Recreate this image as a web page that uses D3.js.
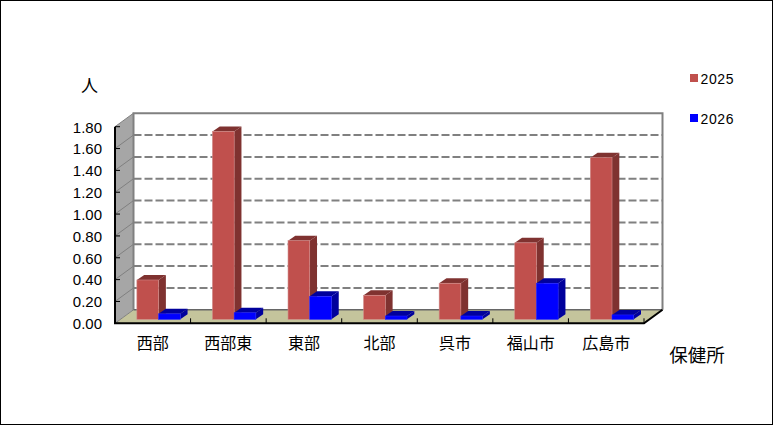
<!DOCTYPE html>
<html>
<head>
<meta charset="utf-8">
<script src="https://cdn.jsdelivr.net/npm/d3@7"></script>
<style>
html, body { margin: 0; padding: 0; background: #fff; }
svg { display: block; }
</style>
</head>
<body>
<svg id="chart" width="773" height="425"></svg>
<script>
const categories = ['西部', '西部東', '東部', '北部', '呉市', '福山市', '広島市'];
const seriesNames = ['2025', '2026'];
const values2025 = [0.36, 1.72, 0.72, 0.22, 0.33, 0.70, 1.48];
const values2026 = [0.05, 0.06, 0.21, 0.03, 0.03, 0.33, 0.04];
const tickValues = [0, 0.2, 0.4, 0.6, 0.8, 1.0, 1.2, 1.4, 1.6, 1.8];

const svg = d3.select('#chart');

// front plane of the chart, the back wall is this shifted by depth
const x = d3.scaleBand().domain(categories).range([115, 644]);
const y = d3.scaleLinear().domain([0, 1.8]).range([323.3, 126.7]);
const depthX = 18.5;
const depthY = -13.5;

const numberFont = '"Liberation Sans", Arial, sans-serif';
const cjkFont = '"Noto Sans CJK JP", sans-serif';

function points(arr) {
    return arr.map(p => p.join(',')).join(' ');
}

// outer frame
svg.append('rect')
    .attr('x', 0.5).attr('y', 0.5)
    .attr('width', 772).attr('height', 424)
    .attr('fill', '#fff').attr('stroke', '#000');

const x0 = x.range()[0];
const x1 = x.range()[1];
const yBottom = y(0);
const yTop = y(1.8);

// back wall
svg.append('rect')
    .attr('x', x0 + depthX).attr('y', yTop + depthY)
    .attr('width', x1 - x0).attr('height', yBottom - yTop)
    .attr('fill', '#fff');

// side wall
svg.append('polygon')
    .attr('points', points([[x0, yBottom], [x0, yTop], [x0 + depthX, yTop + depthY], [x0 + depthX, yBottom + depthY]]))
    .attr('fill', '#a6a6a6');

// floor
svg.append('polygon')
    .attr('points', points([[x0, yBottom], [x1, yBottom], [x1 + depthX, yBottom + depthY], [x0 + depthX, yBottom + depthY]]))
    .attr('fill', '#c4c49c');

// grid lines on the back wall, with the diagonal part on the side wall
const grid = svg.append('g');
grid.selectAll('line.diag')
    .data(tickValues.slice(0, -1))
    .enter().append('line')
    .attr('class', 'diag')
    .attr('x1', x0).attr('y1', d => y(d))
    .attr('x2', x0 + depthX).attr('y2', d => y(d) + depthY)
    .attr('stroke', '#808080').attr('stroke-width', 1);
grid.selectAll('line.dash')
    .data(tickValues.slice(1, -1))
    .enter().append('line')
    .attr('class', 'dash')
    .attr('x1', x0 + depthX).attr('y1', d => y(d) + depthY)
    .attr('x2', x1 + depthX).attr('y2', d => y(d) + depthY)
    .attr('stroke', '#808080').attr('stroke-width', 2)
    .attr('stroke-dasharray', '8,3');

// wall outlines
svg.append('polyline')
    .attr('points', points([[x0 + depthX, yBottom + depthY], [x0 + depthX, yTop + depthY], [x1 + depthX, yTop + depthY], [x1 + depthX, yBottom + depthY]]))
    .attr('fill', 'none').attr('stroke', '#808080').attr('stroke-width', 2);
svg.append('line')
    .attr('x1', x0 + depthX).attr('y1', yBottom + depthY)
    .attr('x2', x1 + depthX).attr('y2', yBottom + depthY)
    .attr('stroke', '#666').attr('stroke-width', 1.5);
svg.append('line')
    .attr('x1', x0).attr('y1', yTop)
    .attr('x2', x0 + depthX).attr('y2', yTop + depthY)
    .attr('stroke', '#808080').attr('stroke-width', 1);

// bars
const barWidth = 21.7;
const barDx = 5.8;   // bars stand a bit behind the front edge
const barDy = -4;
const barDepthX = 7.3;
const barDepthY = -5;

function drawBars(values, offset, front, dark, edge) {
    const g = svg.append('g');
    values.forEach((v, i) => {
        const left = x(categories[i]) + x.bandwidth() / 2 + barDx + offset;
        const right = left + barWidth;
        const top = y(v) + barDy;
        const base = y(0) + barDy;
        // top face
        g.append('polygon')
            .attr('points', points([[left, top], [right, top], [right + barDepthX, top + barDepthY], [left + barDepthX, top + barDepthY]]))
            .attr('fill', dark);
        // side face
        g.append('polygon')
            .attr('points', points([[right, top], [right + barDepthX, top + barDepthY], [right + barDepthX, base + barDepthY], [right, base]]))
            .attr('fill', dark);
        // front face
        g.append('rect')
            .attr('x', left).attr('y', top)
            .attr('width', barWidth).attr('height', base - top)
            .attr('fill', front).attr('stroke', edge).attr('stroke-width', 0.6);
    });
}

drawBars(values2025, -barWidth, '#c0504d', '#7f3230', '#d08a88');
drawBars(values2026, 0, '#0000ff', '#00009c', '#2020ff');

// axes
const yAxis = d3.axisLeft(y).tickValues(tickValues).tickSize(0).tickPadding(13).tickFormat(d3.format('.2f'));
const yG = svg.append('g').attr('transform', `translate(${x0},0)`).call(yAxis);
yG.select('.domain').remove();
yG.selectAll('text')
    .attr('font-family', numberFont).attr('font-size', 15).attr('fill', '#000')
    .attr('transform', 'translate(0,0.5)');
svg.append('g').selectAll('line')
    .data(tickValues)
    .enter().append('line')
    .attr('x1', x0).attr('y1', d => y(d))
    .attr('x2', x0 + 5).attr('y2', d => y(d))
    .attr('stroke', '#000').attr('stroke-width', 1);

const xAxis = d3.axisBottom(x).tickSize(0).tickPadding(14);
const xG = svg.append('g').attr('transform', `translate(0,${yBottom})`).call(xAxis);
xG.select('.domain').remove();
xG.selectAll('text')
    .attr('font-family', cjkFont).attr('font-size', 16).attr('fill', '#000');
svg.append('g').selectAll('line')
    .data(categories)
    .enter().append('line')
    .attr('x1', d => x(d) + x.bandwidth()).attr('y1', yBottom)
    .attr('x2', d => x(d) + x.bandwidth()).attr('y2', yBottom - 5)
    .attr('stroke', '#000').attr('stroke-width', 1);

svg.append('polyline')
    .attr('points', points([[x0, yTop], [x0, yBottom], [x1, yBottom], [x1 + depthX, yBottom + depthY]]))
    .attr('fill', 'none').attr('stroke', '#000').attr('stroke-width', 2);

// axis titles
svg.append('text')
    .attr('x', 89.5).attr('y', 92).attr('text-anchor', 'middle')
    .attr('font-family', cjkFont).attr('font-size', 17)
    .text('人');
svg.append('text')
    .attr('x', 697).attr('y', 362).attr('text-anchor', 'middle')
    .attr('font-family', cjkFont).attr('font-size', 18.5)
    .text('保健所');

// legend
const legendColors = ['#c0504d', '#0000ff'];
const legendY = d3.scalePoint().domain(seriesNames).range([78, 118]);
const legend = svg.append('g').selectAll('g')
    .data(seriesNames)
    .enter().append('g');
legend.append('rect')
    .attr('x', 690).attr('y', d => legendY(d) - 4)
    .attr('width', 8).attr('height', 8)
    .attr('fill', (d, i) => legendColors[i]);
legend.append('text')
    .attr('x', 700.5).attr('y', d => legendY(d) + 5.5)
    .attr('font-family', numberFont).attr('font-size', 14)
    .attr('textLength', 33)
    .text(d => d);
</script>
</body>
</html>
